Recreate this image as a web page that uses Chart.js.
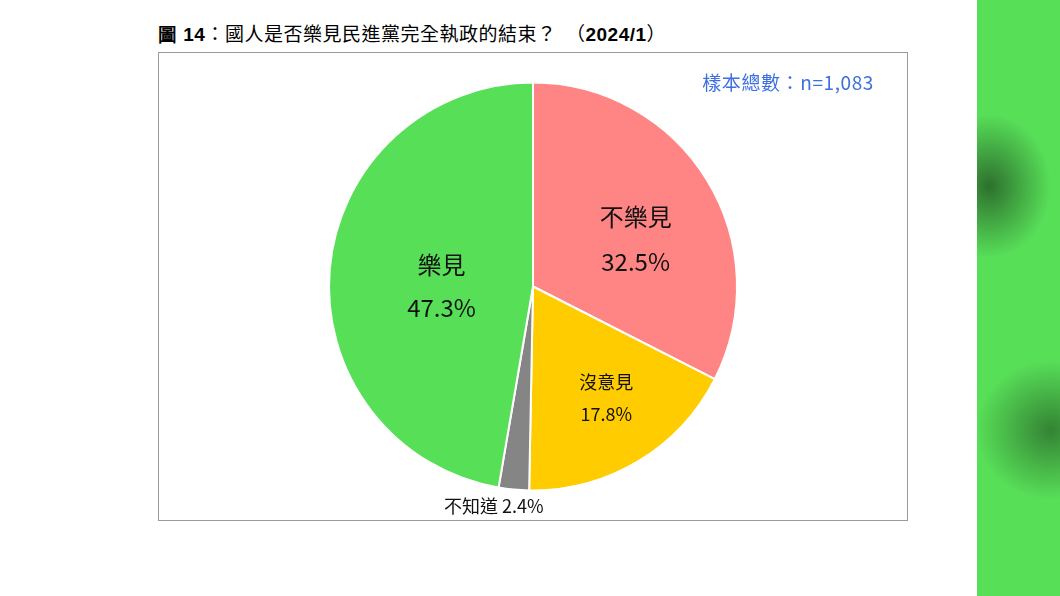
<!DOCTYPE html>
<html>
<head>
<meta charset="utf-8">
<script src="https://cdn.jsdelivr.net/npm/chart.js@4/dist/chart.umd.min.js"></script>
<style>
  body { margin: 0; width: 1060px; height: 596px; background: #fff; position: relative; overflow: hidden;
         font-family: "Noto Sans CJK TC", "Noto Sans", sans-serif; }
  #title { position: absolute; left: 158px; top: 20px; font-size: 19px; line-height: 26px; color: #000; white-space: pre; letter-spacing: 0.5px; }
  #title b { font-family: "Liberation Sans", Arial, sans-serif; }
  #box { position: absolute; left: 158px; top: 52px; width: 748px; height: 467px; border: 1px solid #9a9a9a; }
  #n { position: absolute; right: 33px; top: 15px; font-size: 19px; letter-spacing: 0.6px; color: #3d6fe0; }
  #side { position: absolute; left: 977px; top: 0; width: 83px; height: 596px; background:
    radial-gradient(ellipse 62px 72px at 12px 186px, rgba(40,100,40,0.9), rgba(40,100,40,0) 100%),
    radial-gradient(ellipse 75px 70px at 74px 430px, rgba(45,115,45,0.85), rgba(45,115,45,0) 100%),
    #58df58; }
</style>
</head>
<body>
<div id="title"><b>圖 14</b>：國人是否樂見民進黨完全執政的結束？  （<b>2024/1</b>）</div>
<div id="box">
  <canvas id="myChart" width="748" height="467"></canvas>
  <div id="n">樣本總數：n=1,083</div>
</div>
<div id="side"></div>
<script>
let labels = ['不樂見', '沒意見', '不知道', '樂見'];
let values = [32.5, 17.8, 2.4, 47.3];
let colorHex = ['#ff8585', '#ffcc00', '#858585', '#58df58'];

// label placement: fraction of radius, pixel nudge, font size, half gap between the two lines
let labelRadius = [0.55, 0.66, 1.1, 0.45];
let nudgeX = [7, 4, -18, 0];
let nudgeY = [11, -4, -4, 8];
let labelSize = [24, 18, 18, 24];
let lineGap = [22.5, 16, 0, 21.5];

let sliceLabels = {
  id: 'sliceLabels',
  afterDatasetsDraw(chart) {
    let ctx = chart.ctx;
    let arcs = chart.getDatasetMeta(0).data;
    ctx.save();
    ctx.fillStyle = '#111';
    ctx.textAlign = 'center';
    ctx.textBaseline = 'middle';
    arcs.forEach((arc, i) => {
      let mid = (arc.startAngle + arc.endAngle) / 2;
      let r = arc.outerRadius * labelRadius[i];
      let x = arc.x + Math.cos(mid) * r + nudgeX[i];
      let y = arc.y + Math.sin(mid) * r + nudgeY[i];
      ctx.font = labelSize[i] + 'px "Noto Sans CJK TC", "Noto Sans", sans-serif';
      let pct = values[i].toFixed(1) + '%';
      if (i === 2) {
        ctx.fillText(labels[i] + ' ' + pct, x, y);
      } else {
        ctx.fillText(labels[i], x, y - lineGap[i]);
        ctx.fillText(pct, x, y + lineGap[i]);
      }
    });
    ctx.restore();
  }
};

let ctx = document.getElementById('myChart').getContext('2d');
let myChart = new Chart(ctx, {
  type: 'pie',
  data: {
    labels: labels,
    datasets: [{
      data: values,
      backgroundColor: colorHex,
      borderColor: '#fff',
      borderWidth: 2,
      radius: 204
    }]
  },
  options: {
    responsive: false,
    animation: false,
    plugins: {
      legend: { display: false },
      tooltip: { enabled: false }
    }
  },
  plugins: [sliceLabels]
});
</script>
</body>
</html>
